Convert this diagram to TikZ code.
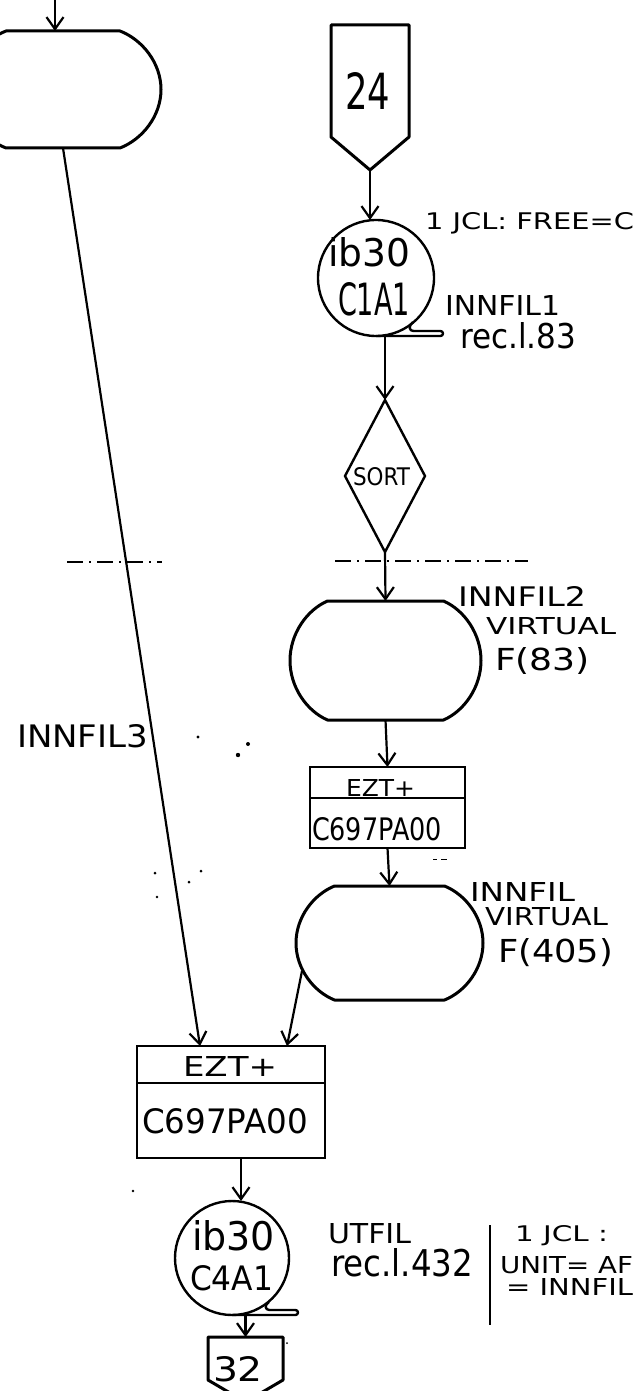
\documentclass[tikz,border=0pt]{standalone}
\usepackage{fontspec}
\setmainfont{DejaVu Sans}
\usepackage{graphicx}
\usetikzlibrary{arrows.meta,shapes.geometric,calc}

\newcommand\ft[3]{\resizebox{#1bp}{#2bp}{#3}}
% storage outline: node name, flat half width, bulge half width, half height
\newcommand\drawstore[4]{%
  \begin{scope}[shift={(#1.center)}]
    \draw[storeline] (-#2,-#4) -- (#2,-#4)
      .. controls ({#2+0.55*(#3-#2)},{-0.85*#4}) and (#3,{-0.45*#4}) .. (#3,0)
      .. controls (#3,{0.45*#4}) and ({#2+0.55*(#3-#2)},{0.85*#4}) .. (#2,#4)
      -- (-#2,#4)
      .. controls ({-#2-0.55*(#3-#2)},{0.85*#4}) and (-#3,{0.45*#4}) .. (-#3,0)
      .. controls (-#3,{-0.45*#4}) and ({-#2-0.55*(#3-#2)},{-0.85*#4}) .. cycle;
  \end{scope}}
% tape tail of a circle node: node name, radius
\newcommand\drawtail[2]{%
  \draw[tailline] (#1.south) -- ($(#1.center)+(#2+9,#2)$) -- ($(#1.center)+(#2+9,#2-5)$)
    -- ($(#1.center)+(40,#2-5)$)
    .. controls ($(#1.center)+(33,#2-5)$) and ($(#1.center)+(32,#2-10)$) .. ($(#1.center)+(37,44)$);}

\begin{document}
\begin{tikzpicture}[x=1bp,y=-1bp,
  storeline/.style={line width=3bp, line join=round},
  tailline/.style={line width=2.4bp, line join=round, rounded corners=2.5bp},
  conn/.style={line width=2.2bp, -{Straight Barb[length=12bp,width=17bp,line width=2.2bp]}},
  holder/.style={inner sep=0, outer sep=0},
  boxline/.style={draw, line width=2.6bp, inner sep=0, outer sep=0},
  tape/.style={circle, draw, line width=2.4bp, inner sep=0, outer sep=0},
  lbl/.style={inner sep=0, outer sep=0, anchor=base west},
  dashdot/.style={line width=1.5bp, dash pattern=on 16bp off 6bp on 2bp off 6bp},
  speck/.style={fill=black}]
\useasboundingbox (0,0) rectangle (636,1391);
\clip (0,0) rectangle (636,1391);

% ---------- shapes ----------
\node[holder, minimum width=196bp, minimum height=117bp] (st1) at (63,89.5) {};
\node[holder, minimum width=78bp, minimum height=145bp] (c24) at (370,97.5) {};
\node[tape, minimum size=116bp] (c1) at (376,278) {};
\node[diamond, draw, line width=2.4bp, minimum width=80bp, minimum height=152bp, inner sep=0, outer sep=0] (sort) at (385,476) {};
\node[holder, minimum width=191bp, minimum height=119bp] (st2) at (385.5,660.5) {};
\node[boxline, minimum width=155bp, minimum height=81bp] (ezts) at (387.5,807.5) {};
\node[holder, minimum width=187bp, minimum height=114bp] (st3) at (389.5,943) {};
\node[boxline, minimum width=188bp, minimum height=112bp] (ezt) at (231,1102) {};
\node[tape, minimum size=114bp] (c2) at (232,1258) {};
\node[holder, minimum width=75bp, minimum height=65bp] (c32) at (245.5,1369.5) {};

\drawstore{st1}{57}{98}{58.5}
\drawstore{st2}{58}{95.5}{59.5}
\drawstore{st3}{55}{93.5}{57}

\draw[storeline] (c24.north west) -- (c24.north east) -- ($(c24.north east)+(0,112)$)
  -- (c24.south) -- ($(c24.north west)+(0,112)$) -- cycle;
\draw[storeline] (c32.north west) -- (c32.north east) -- ($(c32.north east)+(0,43)$)
  -- (c32.south) -- ($(c32.north west)+(0,43)$) -- cycle;

\draw[line width=2.6bp] ($(ezts.north west)+(0,31)$) -- ($(ezts.north east)+(0,31)$);
\draw[line width=2.6bp] ($(ezt.north west)+(0,37)$) -- ($(ezt.north east)+(0,37)$);

\drawtail{c1}{58}
\drawtail{c2}{57}

% ---------- connectors ----------
\coordinate (t0) at (55,0);
\draw[conn] (t0) -- ($(st1.north)+(-8,0)$);
\draw[conn] (st1.south) -- ($(ezt.north west)+(63,0)$);
\draw[conn] (c24.south) -- (c1.north -| c24.south);
\draw[conn] (sort.north |- c1.south) -- (sort.north);
\draw[conn] (sort.south) -- (st2.north);
\draw[conn] (st2.south) -- (ezts.north);
\draw[conn] (ezts.south) -- (st3.north);
\draw[conn] ($(st3.center)+(-87.5,28)$) -- ($(ezt.north east)+(-38,0)$);
\draw[conn] ($(ezt.south)+(10,0)$) -- ($(c2.north)+(9,0)$);
\draw[conn] (c32.north |- c2.south) -- (c32.north);

% ---------- dash-dot separator ----------
\draw[dashdot] (67,562) -- (162,562);
\draw[dashdot] (335,561) -- (528,561);

% ---------- vertical rule ----------
\draw[line width=2.4bp] (490,1225) -- (490,1325);

% ---------- texts ----------
\node[lbl] (tx24) at (345,110) {\ft{45}{37}{24}};
\node[lbl] (txib1) at (328,267) {\ft{82}{29}{ib30}};
\node[lbl] (txc1a1) at (338,315) {\ft{72}{33}{C1A1}};
\node[lbl] (txjcl1) at (425,230) {\ft{209}{17}{1 JCL: FREE=C}};
\node[lbl] (txinn1) at (445,315) {\ft{115}{20}{INNFIL1}};
\node[lbl] (txrec83) at (460,348) {\ft{116}{26}{rec.l.83}};
\node[lbl] (txsort) at (353,485) {\ft{57}{18}{SORT}};
\node[lbl] (txinn2) at (458,606) {\ft{128}{20}{INNFIL2}};
\node[lbl] (txvirt1) at (486,634) {\ft{130}{17}{VIRTUAL}};
\node[lbl] (txf83) at (495,670) {\ft{95}{23}{F(83)}};
\node[lbl] (txezts) at (346,796) {\ft{69}{17}{EZT+}};
\node[lbl] (txcpas) at (312,840) {\ft{130}{23}{C697PA00}};
\node[lbl] (txinnl) at (470,901) {\ft{105}{19}{INNFIL}};
\node[lbl] (txvirt2) at (485,925) {\ft{123}{18}{VIRTUAL}};
\node[lbl] (txf405) at (498,962) {\ft{115}{24}{F(405)}};
\node[lbl] (txinn3) at (17,747) {\ft{131}{23}{INNFIL3}};
\node[lbl] (txezt) at (183,1076) {\ft{94}{20}{EZT+}};
\node[lbl] (txcpa) at (142,1133) {\ft{166}{25}{C697PA00}};
\node[lbl] (txib2) at (192,1250) {\ft{83}{30}{ib30}};
\node[lbl] (txc4a1) at (190,1290) {\ft{83}{25}{C4A1}};
\node[lbl] (tx32) at (213,1381) {\ft{50}{25}{32}};
\node[lbl] (txut) at (328,1243) {\ft{83}{20}{UTFIL}};
\node[lbl] (txrec432) at (331,1276) {\ft{142}{28}{rec.l.432}};
\node[lbl] (txjcl2) at (515,1241) {\ft{93}{16}{1 JCL :}};
\node[lbl] (txunit) at (500,1273) {\ft{133}{17}{UNIT= AF}};
\node[lbl] (txeqinn) at (506,1295) {\ft{127}{17}{= INNFIL}};

% ---------- scan specks ----------
\fill[speck] (198,737) circle[radius=1.6bp];
\fill[speck] (248,744) circle[radius=2bp];
\fill[speck] (238,755) circle[radius=2.2bp];
\fill[speck] (155,873) circle[radius=1.5bp];
\fill[speck] (201,871) circle[radius=1.5bp];
\fill[speck] (189,882) circle[radius=1.5bp];
\fill[speck] (157,897) circle[radius=1.3bp];
\fill[speck] (133,1191) circle[radius=1.3bp];
\fill[speck] (287,1343) circle[radius=1bp];
\draw[line width=1bp] (433,859) -- (437,859) (441,859) -- (447,859);
\end{tikzpicture}
\end{document}
